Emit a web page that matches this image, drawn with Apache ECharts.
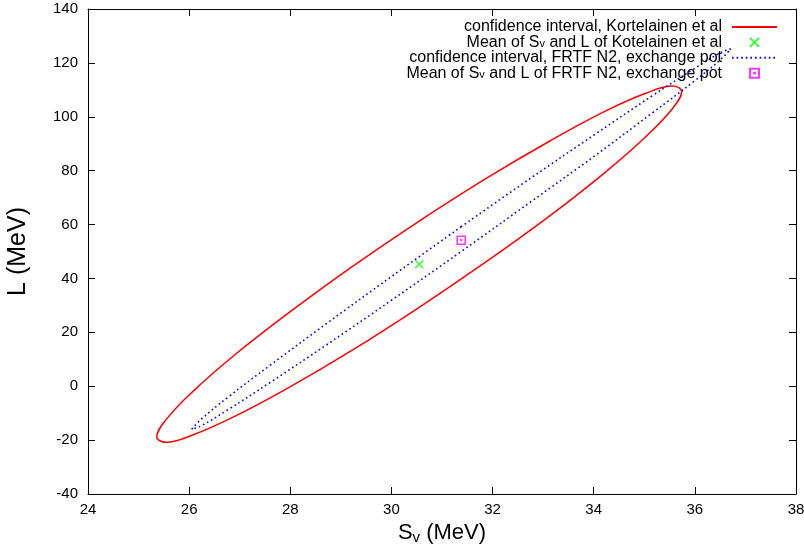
<!DOCTYPE html>
<html>
<head>
<meta charset="utf-8">
<script src="https://cdn.jsdelivr.net/npm/echarts@6/dist/echarts.min.js"></script>
<style>html,body{margin:0;padding:0;background:#fff;}#chart{width:804px;height:550px;}</style>
</head>
<body>
<div id="chart"></div>
<script>
// Confidence ellipse, Kortelainen et al (S_v, L) points traced around the curve
const kortelainenS = [30.55, 29.21, 27.96, 26.88, 26.06, 25.54, 25.36, 25.54, 26.06, 26.88, 27.96, 29.21, 30.55, 31.89, 33.15, 34.22, 35.04, 35.56, 35.74, 35.56, 35.04, 34.22, 33.15, 31.89, 30.55];
const kortelainenL = [61.3, 44.2, 27.1, 11.3, -2.2, -12.5, -18.8, -20.8, -18.2, -11.4, -0.6, 13.2, 29.3, 46.4, 63.5, 79.3, 92.8, 103.1, 109.4, 111.4, 108.8, 102.0, 91.2, 77.3, 61.3];
// Confidence ellipse, FRTF N2 exchange pot
const frtfS = [31.38, 30.00, 28.72, 27.61, 26.76, 26.23, 26.05, 26.23, 26.76, 27.61, 28.72, 30.00, 31.38, 32.76, 34.05, 35.15, 36.00, 36.53, 36.71, 36.53, 36.00, 35.15, 34.05, 32.76, 31.38];
const frtfL = [59.2, 40.7, 23.3, 7.9, -4.2, -12.4, -16.0, -14.8, -8.8, 1.5, 15.4, 31.9, 50.0, 68.5, 85.9, 101.3, 113.4, 121.6, 125.2, 124.0, 118.0, 107.7, 93.8, 77.3, 59.2];
// Means
const meanKortelainen = [30.55, 45.3];
const meanFRTF = [31.38, 54.2];
// Axes
const xMin = 24, xMax = 38, xStep = 2;
const yMin = -40, yMax = 140, yStep = 20;
const seriesNames = [
  'confidence interval, Kortelainen et al',
  'Mean of S_v and L of Kotelainen et al',
  'confidence interval, FRTF N2, exchange pot',
  'Mean of S_v and L of FRTF N2, exchange pot'
];

const FONT = "'Liberation Sans', Arial, sans-serif";
const zip = (a, b) => a.map((v, i) => [v, b[i]]);
const richSub = {
  n: { fontSize: 16, lineHeight: 15, fontFamily: FONT, color: '#000' },
  s: { fontSize: 11, lineHeight: 4, verticalAlign: 'bottom', fontFamily: FONT, color: '#000' }
};
const richSubBig = {
  n: { fontSize: 22, lineHeight: 24, fontFamily: FONT, color: '#000' },
  s: { fontSize: 15, lineHeight: 8, verticalAlign: 'bottom', fontFamily: FONT, color: '#000' }
};
function toRich(name) {
  return name.split('S_v').map(p => p ? '{n|' + p + '}' : '').join('{n|S}{s|v}');
}
const SYM_X = 'path://M0,0L10,10M0,10L10,0';
const SYM_BOX = 'path://M0,0H10V10H0ZM4.6,4.6H5.4V5.4H4.6Z';

const axisCommon = {
  type: 'value',
  splitLine: { show: false },
  axisLine: { show: true, onZero: false, lineStyle: { color: '#000', width: 1 } },
  axisTick: { show: true, inside: true, length: 7, lineStyle: { color: '#000', width: 1 } }
};

const chart = echarts.init(document.getElementById('chart'), null, { renderer: 'canvas' });
chart.setOption({
  animation: false,
  backgroundColor: '#fff',
  grid: { left: 88, right: 8, top: 9, bottom: 56, outerBoundsMode: 'none', containLabel: false },
  xAxis: [
    Object.assign({}, axisCommon, {
      position: 'bottom', min: xMin, max: xMax, interval: xStep,
      axisLabel: { fontSize: 15, color: '#000', fontFamily: FONT, margin: 8 },
      name: '{n|S}{s|v}{n| (MeV)}', nameLocation: 'middle', nameGap: 20,
      nameTextStyle: { rich: richSubBig }
    }),
    Object.assign({}, axisCommon, {
      position: 'top', min: xMin, max: xMax, interval: xStep,
      axisLabel: { show: false }
    })
  ],
  yAxis: [
    Object.assign({}, axisCommon, {
      position: 'left', min: yMin, max: yMax, interval: yStep,
      axisLabel: { fontSize: 15, color: '#000', fontFamily: FONT, margin: 10 },
      name: 'L (MeV)', nameLocation: 'middle', nameGap: 57,
      nameTextStyle: { fontSize: 25, color: '#000', fontFamily: FONT }
    }),
    Object.assign({}, axisCommon, {
      position: 'right', min: yMin, max: yMax, interval: yStep,
      axisLabel: { show: false }
    })
  ],
  legend: {
    orient: 'vertical', align: 'right', right: 26, top: 19, padding: 0,
    itemWidth: 45, itemHeight: 9, itemGap: -0.6,
    data: [
      { name: seriesNames[0], itemStyle: { opacity: 0 } },
      { name: seriesNames[1] },
      { name: seriesNames[2], itemStyle: { opacity: 0 } },
      { name: seriesNames[3] }
    ],
    formatter: toRich,
    textStyle: { fontSize: 16, fontFamily: FONT, color: '#000', lineHeight: 15, padding: [0, 5, 0, 0], rich: richSub }
  },
  series: [
    {
      name: seriesNames[0], type: 'line', xAxisIndex: 0, yAxisIndex: 0,
      data: zip(kortelainenS, kortelainenL), smooth: 0.4, symbol: 'none',
      lineStyle: { color: '#ff0000', width: 1.5 }, itemStyle: { color: '#ff0000' }
    },
    {
      name: seriesNames[1], type: 'scatter', data: [meanKortelainen],
      symbol: SYM_X, symbolSize: 8,
      itemStyle: { color: 'rgba(0,0,0,0)', borderColor: '#00ff00', borderWidth: 1.5 }
    },
    {
      name: seriesNames[2], type: 'line',
      data: zip(frtfS, frtfL), smooth: 0.4, symbol: 'none',
      lineStyle: { color: '#0000ff', width: 1.6, type: [1.6, 3] }, itemStyle: { color: '#0000ff' }
    },
    {
      name: seriesNames[3], type: 'scatter', data: [meanFRTF],
      symbol: SYM_BOX, symbolSize: 8,
      itemStyle: { color: 'rgba(0,0,0,0)', borderColor: '#ff00ff', borderWidth: 1.5 }
    }
  ]
});
</script>
</body>
</html>
